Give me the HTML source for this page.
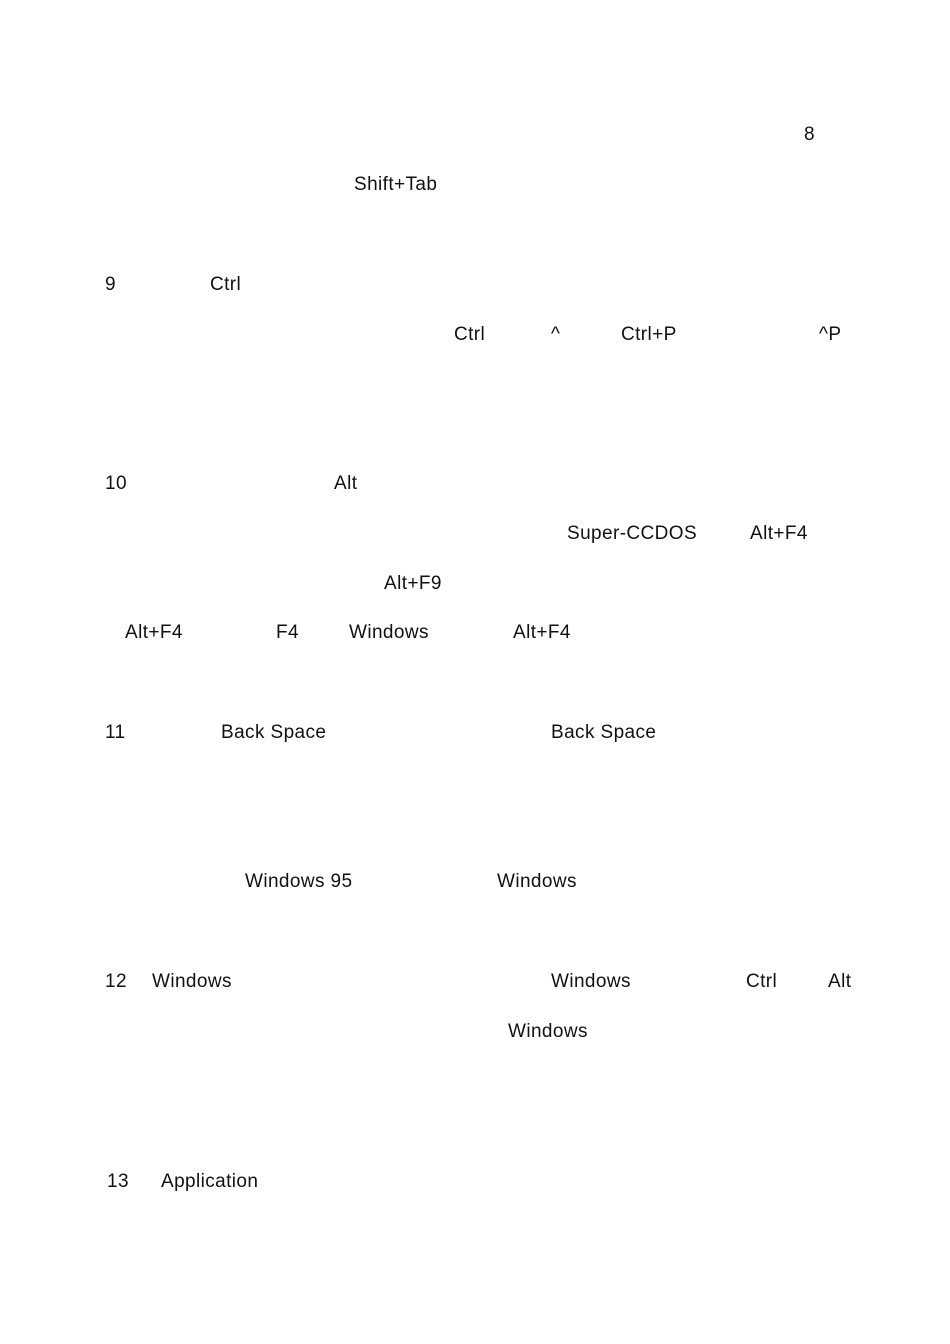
<!DOCTYPE html>
<html><head><meta charset="utf-8"><style>
html,body{margin:0;padding:0;background:#fff;}
body{width:950px;height:1344px;position:relative;overflow:hidden;font-family:"Liberation Sans","Noto Sans CJK SC",sans-serif;font-size:19px;color:#111;letter-spacing:0.4px;}
span{position:absolute;white-space:nowrap;line-height:22px;margin-top:2px;}
</style></head><body>
<span style="left:804px;top:122px">8</span>
<span style="left:354px;top:172px">Shift+Tab</span>
<span style="left:105px;top:272px">9</span>
<span style="left:210px;top:272px">Ctrl</span>
<span style="left:454px;top:322px">Ctrl</span>
<span style="left:551px;top:322px">^</span>
<span style="left:621px;top:322px">Ctrl+P</span>
<span style="left:819px;top:322px">^P</span>
<span style="left:105px;top:471px">10</span>
<span style="left:334px;top:471px">Alt</span>
<span style="left:567px;top:521px">Super-CCDOS</span>
<span style="left:750px;top:521px">Alt+F4</span>
<span style="left:384px;top:571px">Alt+F9</span>
<span style="left:125px;top:620px">Alt+F4</span>
<span style="left:276px;top:620px">F4</span>
<span style="left:349px;top:620px">Windows</span>
<span style="left:513px;top:620px">Alt+F4</span>
<span style="left:105px;top:720px">11</span>
<span style="left:221px;top:720px">Back Space</span>
<span style="left:551px;top:720px">Back Space</span>
<span style="left:245px;top:869px">Windows 95</span>
<span style="left:497px;top:869px">Windows</span>
<span style="left:105px;top:969px">12</span>
<span style="left:152px;top:969px">Windows</span>
<span style="left:551px;top:969px">Windows</span>
<span style="left:746px;top:969px">Ctrl</span>
<span style="left:828px;top:969px">Alt</span>
<span style="left:508px;top:1019px">Windows</span>
<span style="left:107px;top:1169px">13</span>
<span style="left:161px;top:1169px">Application</span>
</body></html>
